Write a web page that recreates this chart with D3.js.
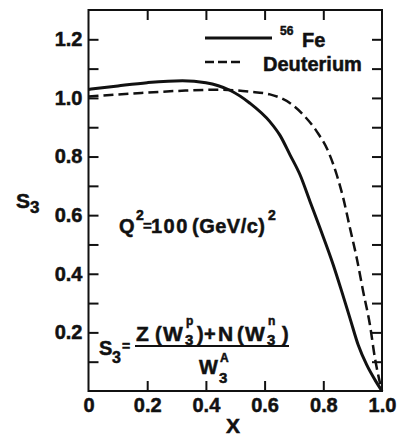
<!DOCTYPE html>
<html>
<head>
<meta charset="utf-8">
<script src="https://cdn.jsdelivr.net/npm/d3@7"></script>
<style>
  body { margin: 0; background: #fff; }
  text { font-family: "Liberation Sans", Arial, sans-serif; font-weight: bold; fill: #111; stroke: #111; stroke-width: 0.5px; }
</style>
</head>
<body>
<div id="chart"></div>
<script>
// values
const feX = [0, 0.1, 0.2, 0.32, 0.4, 0.48, 0.55, 0.618, 0.652, 0.687, 0.721, 0.755, 0.789, 0.834, 0.863, 0.891, 0.919, 0.948, 0.976, 1.0]
const feY = [1.029, 1.041, 1.052, 1.059, 1.052, 1.027, 0.982, 0.919, 0.873, 0.805, 0.737, 0.646, 0.555, 0.430, 0.339, 0.248, 0.157, 0.089, 0.038, 0.0]
const deutX = [0, 0.15, 0.33, 0.45, 0.55, 0.618, 0.687, 0.732, 0.778, 0.817, 0.846, 0.868, 0.891, 0.914, 0.936, 0.959, 0.976, 0.987, 1.0]
const deutY = [1.005, 1.015, 1.025, 1.028, 1.021, 1.012, 0.982, 0.942, 0.885, 0.817, 0.737, 0.658, 0.555, 0.453, 0.339, 0.225, 0.112, 0.055, 0.0]

const xTicks = [0, 0.2, 0.4, 0.6, 0.8, 1.0]
const xInner = [0.2, 0.4, 0.6, 0.8]
const yTicks = [0.1, 0.2, 0.3, 0.4, 0.5, 0.6, 0.7, 0.8, 0.9, 1.0, 1.1, 1.2]
const yLabels = [0.2, 0.4, 0.6, 0.8, 1.0, 1.2]

const width = 401, height = 441
const margin = {top: 10, right: 19, bottom: 50, left: 88.5}

const svg = d3.select("#chart").append("svg")
    .attr("width", width)
    .attr("height", height)

const x = d3.scaleLinear().domain([0, 1]).range([margin.left, width - margin.right])
const y = d3.scaleLinear().domain([0, 1.3]).range([height - margin.bottom, margin.top])

// frame
svg.append("rect")
    .attr("x", x(0)).attr("y", y(1.3))
    .attr("width", x(1) - x(0)).attr("height", y(0) - y(1.3))
    .attr("fill", "none").attr("stroke", "#111").attr("stroke-width", 2)

// styling helper for axes
function styleAxis(g) {
    g.select(".domain").remove()
    g.selectAll(".tick line").attr("stroke", "#111").attr("stroke-width", 2)
    g.selectAll(".tick text")
        .attr("font-family", "\"DejaVu Sans\", sans-serif")
        .attr("font-weight", "bold")
        .attr("font-size", 20)
        .attr("fill", "#111")
}

// left axis, ticks point inward
svg.append("g")
    .attr("transform", `translate(${x(0)},0)`)
    .call(d3.axisLeft(y).tickValues(yTicks).tickSize(-10).tickPadding(6)
        .tickFormat(d => yLabels.some(v => Math.abs(v - d) < 1e-9) ? d3.format(".1f")(d) : ""))
    .call(styleAxis)

// right axis ticks
svg.append("g")
    .attr("transform", `translate(${x(1)},0)`)
    .call(d3.axisRight(y).tickValues(yTicks).tickSize(-10).tickFormat(""))
    .call(styleAxis)

// bottom ticks + labels
svg.append("g")
    .attr("transform", `translate(0,${y(0)})`)
    .call(d3.axisBottom(x).tickValues(xInner).tickSize(-10).tickFormat(""))
    .call(styleAxis)
svg.append("g")
    .attr("transform", `translate(0,${y(0)})`)
    .call(d3.axisBottom(x).tickValues(xTicks).tickSize(0).tickPadding(7)
        .tickFormat(d => d === 0 ? "0" : d3.format(".1f")(d)))
    .call(styleAxis)

// top ticks
svg.append("g")
    .attr("transform", `translate(0,${y(1.3)})`)
    .call(d3.axisTop(x).tickValues(xInner).tickSize(-10).tickFormat(""))
    .call(styleAxis)

// curves
const line = d3.line()
    .x(d => x(d[0]))
    .y(d => y(d[1]))
    .curve(d3.curveMonotoneX)

svg.append("path")
    .datum(feX.map((v, i) => [v, feY[i]]))
    .attr("d", line)
    .attr("fill", "none").attr("stroke", "#111").attr("stroke-width", 3)

svg.append("path")
    .datum(deutX.map((v, i) => [v, deutY[i]]))
    .attr("d", line)
    .attr("fill", "none").attr("stroke", "#111").attr("stroke-width", 2.5)
    .attr("stroke-dasharray", "10,5")

// axis titles
svg.append("text").attr("x", 233).attr("y", 433).attr("text-anchor", "middle")
    .attr("font-size", 21).text("X")
const sLab = svg.append("text").attr("x", 16).attr("y", 208).attr("font-size", 21)
sLab.append("tspan").text("S")
sLab.append("tspan").attr("dy", 5).attr("font-size", 17).text("3")

// legend
svg.append("line").attr("x1", 205).attr("x2", 272).attr("y1", 38).attr("y2", 38)
    .attr("stroke", "#111").attr("stroke-width", 3)
svg.append("text").attr("x", 280).attr("y", 35).attr("font-size", 12).text("56")
svg.append("text").attr("x", 302).attr("y", 47).attr("font-size", 20).text("Fe")
svg.append("line").attr("x1", 205).attr("x2", 244).attr("y1", 62).attr("y2", 62)
    .attr("stroke", "#111").attr("stroke-width", 2.5).attr("stroke-dasharray", "9,4")
svg.append("text").attr("x", 263).attr("y", 71).attr("font-size", 20).text("Deuterium")

// places annotation pieces at their own x, on a shared baseline
function pieces(y0, parts) {
    parts.forEach(p => {
        svg.append("text")
            .attr("x", p.x)
            .attr("y", y0 + (p.dy || 0))
            .attr("font-size", p.size || 20)
            .attr("letter-spacing", p.ls || 0)
            .text(p.s)
    })
}

// Q^2 annotation
pieces(233, [
    {s: "Q", x: 119, size: 20},
    {s: "2", x: 136, size: 14, dy: -13},
    {s: "=", x: 143, size: 15, dy: -2},
    {s: "100", x: 151, size: 20, ls: 1.5},
    {s: "(GeV/c)", x: 192, size: 20, ls: 0.5},
    {s: "2", x: 268, size: 14, dy: -13}
])

// S3 formula
pieces(355, [
    {s: "S", x: 99, size: 20},
    {s: "3", x: 112, size: 16, dy: 8},
    {s: "=", x: 122, size: 14, dy: -4}
])
svg.append("line").attr("x1", 135).attr("x2", 289).attr("y1", 346).attr("y2", 346)
    .attr("stroke", "#111").attr("stroke-width", 2)
pieces(341, [
    {s: "Z", x: 136, size: 21},
    {s: "(", x: 155, size: 20},
    {s: "W", x: 163, size: 21},
    {s: "p", x: 186, size: 12, dy: -16},
    {s: "3", x: 185, size: 15, dy: 4},
    {s: ")", x: 197, size: 20},
    {s: "+", x: 204, size: 20},
    {s: "N", x: 218, size: 21},
    {s: "(", x: 237, size: 20},
    {s: "W", x: 245, size: 21},
    {s: "n", x: 268, size: 12, dy: -16},
    {s: "3", x: 267, size: 15, dy: 4},
    {s: ")", x: 282, size: 20}
])
pieces(374, [
    {s: "W", x: 199, size: 20},
    {s: "A", x: 220, size: 12, dy: -12},
    {s: "3", x: 219, size: 15, dy: 9}
])
</script>
</body>
</html>
